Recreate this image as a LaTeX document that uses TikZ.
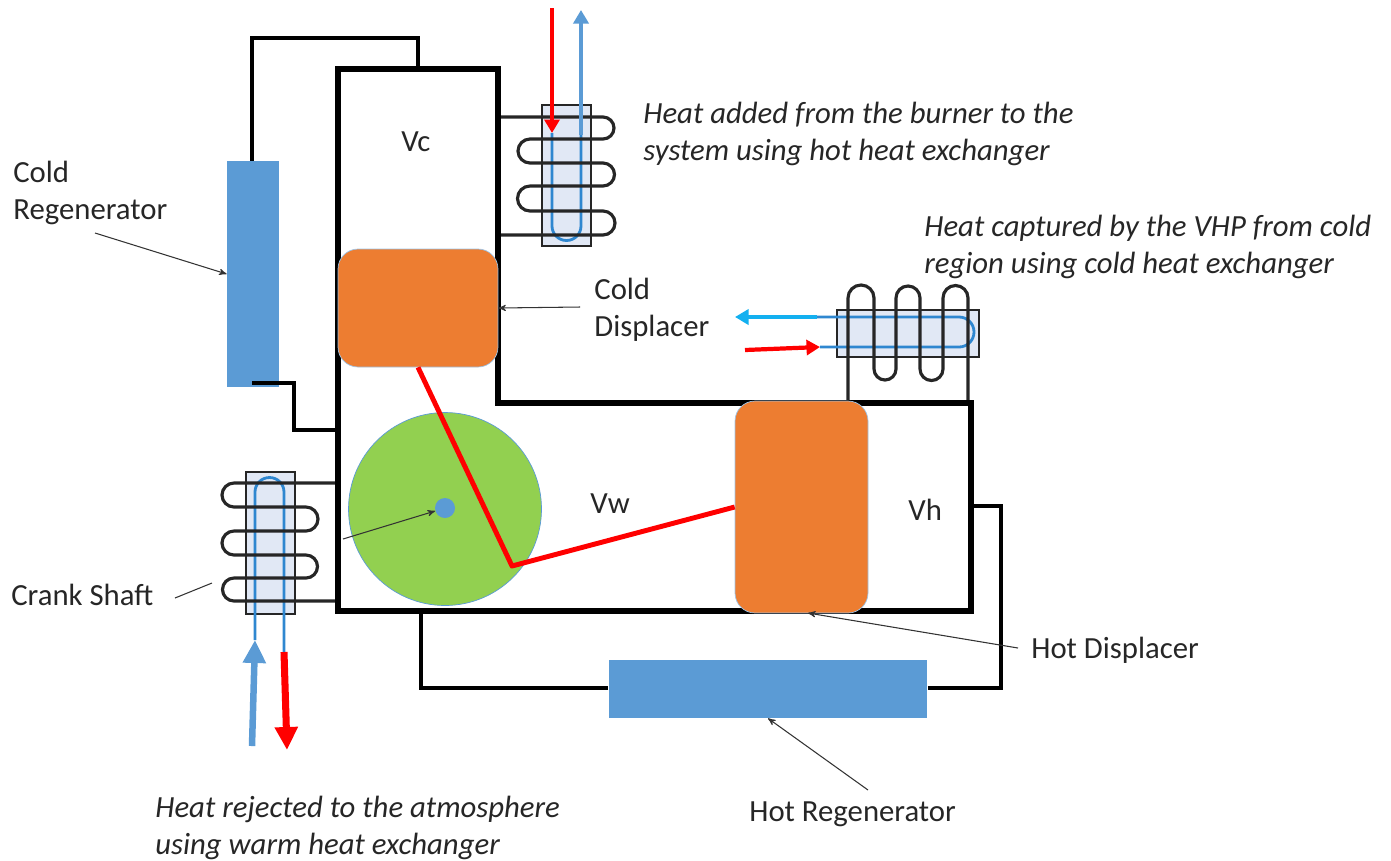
\documentclass[tikz,border=0pt]{standalone}
\usepackage{fontspec}
\setmainfont{Carlito}
\usetikzlibrary{
  positioning,
  arrows,
  arrows.meta
}
\definecolor{regenblue}{HTML}{5B9BD5}
\definecolor{dispo}{HTML}{ED7D31}
\definecolor{wheelgreen}{HTML}{92D050}
\definecolor{hxfill}{HTML}{E1E8F5}
\definecolor{tubeblue}{HTML}{2F87D0}
\definecolor{coolblue}{HTML}{13B0F0}
\tikzset{
  >=stealth',
  body/.style={line width=3.3pt, line join=miter},
  pipe/.style={line width=2.1pt},
  coil/.style={line width=1.8pt, draw=black!85},
  tube/.style={line width=1.6pt, draw=tubeblue},
  regen/.style={rectangle, fill=regenblue, inner sep=0pt},
  displacer/.style={rectangle, rounded corners=0.4cm, fill=dispo, draw=regenblue!60, line width=0.4pt, inner sep=0pt},
  hx/.style={rectangle, draw=black!85, line width=1.6pt, fill=hxfill, inner sep=0pt},
  rod/.style={line width=2.8pt, draw=red, line join=round},
  smalltip/.style={-{Triangle[width=0.3cm, length=0.27cm]}},
  bigtip/.style={-{Triangle[width=0.44cm, length=0.46cm]}},
  redflow/.style={smalltip, line width=2.8pt, draw=red},
  blueflow/.style={smalltip, line width=2.8pt, draw=regenblue},
  leader/.style={->, line width=0.6pt, draw=black!80},
  lbl/.style={inner sep=0pt, anchor=west, align=left, font=\fontsize{17.5}{20.9}\selectfont, text=black!85},
  note/.style={lbl, font=\fontsize{17.5}{20.9}\selectfont\itshape}
}

\begin{document}
\begin{tikzpicture}[x=0.02cm, y=-0.02cm]
    \useasboundingbox (0,0) rectangle (1391,860);

    % regenerators and pipes
    \node[regen, minimum width=1.04cm, minimum height=4.52cm] (coldreg) at (253,274) {};
    \node[regen, minimum width=6.38cm, minimum height=1.16cm] (hotreg) at (768,689) {};
    \coordinate (topleft) at (252,38);
    \coordinate (topright) at (418,38);
    \coordinate (topport) at (418,69);
    \coordinate (coldout) at (252,383);
    \coordinate (stepa) at (294,383);
    \coordinate (stepb) at (294,430);
    \coordinate (workport) at (338,430);
    \coordinate (bottomport) at (421,611);
    \coordinate (bottomleft) at (421,688);
    \coordinate (bottomright) at (1001,688);
    \coordinate (hotcorner) at (1001,506);
    \coordinate (hotport) at (971,506);
    \draw[pipe] (topport) -- (topright) -- (topleft) -- (coldreg.north -| topleft);
    \draw[pipe] (coldout) -- (stepa) -- (stepb) -- (workport);
    \draw[pipe] (bottomport) -- (bottomleft) -- (hotreg.west |- bottomleft);
    \draw[pipe] (hotreg.east |- bottomright) -- (bottomright) -- (hotcorner) -- (hotport);

    % hot heat exchanger
    \node[hx, minimum width=0.98cm, minimum height=2.82cm] (hxtop) at (566.5,175.5) {};
    \coordinate (hxtopin) at (552,133);
    \coordinate (hxtopout) at (581,135);
    \coordinate (hxtopredstart) at (552,8);
    \coordinate (hxtopbluetip) at (581,10);
    \draw[tube] (hxtopin) -- (552,226) arc[start angle=180, end angle=0, radius=14.5] -- (hxtopout);
    \draw[coil] (498,117) -- (603,117) arc[start angle=-90, end angle=90, radius=11]
      -- (530,139) arc[start angle=270, end angle=90, radius=12]
      -- (603,163) arc[start angle=-90, end angle=90, radius=11.5]
      -- (530,186) arc[start angle=270, end angle=90, radius=12.5]
      -- (603,211) arc[start angle=-90, end angle=90, radius=12]
      -- (498,235);
    \draw[redflow] (hxtopredstart) -- (hxtopin);
    \draw[blueflow] (hxtopout) -- (hxtopbluetip);

    % cold heat exchanger
    \node[hx, minimum width=2.84cm, minimum height=0.94cm] (hxright) at (908,333.5) {};
    \coordinate (hxrightout) at (817,317);
    \coordinate (hxrightin) at (820,347);
    \coordinate (hxrightcool) at (735,317);
    \coordinate (hxrightred) at (745,350);
    \draw[tube] (hxrightout) -- (959,317) arc[start angle=-90, end angle=90, radius=15] -- (hxrightin);
    \draw[coil] (848,403) -- (848,298) arc[start angle=180, end angle=360, radius=13]
      -- (874,369) arc[start angle=180, end angle=0, radius=11]
      -- (896,298) arc[start angle=180, end angle=360, radius=12]
      -- (920,369) arc[start angle=180, end angle=0, radius=11.5]
      -- (943,298) arc[start angle=180, end angle=360, radius=12.5]
      -- (968,403);
    \draw[smalltip, line width=2.4pt, draw=coolblue] (hxrightout) -- (hxrightcool);
    \draw[smalltip, line width=2.4pt, draw=red] (hxrightred) -- (hxrightin);

    % warm heat exchanger
    \node[hx, minimum width=0.98cm, minimum height=2.84cm] (hxleft) at (270.5,543) {};
    \coordinate (hxleftin) at (255,640);
    \coordinate (hxleftout) at (284,652);
    \coordinate (hxleftbluestart) at (252,746);
    \coordinate (hxleftredtip) at (287,750);
    \draw[tube] (hxleftin) -- (255,492) arc[start angle=180, end angle=360, radius=14.5] -- (hxleftout);
    \draw[coil] (338,483) -- (234,483) arc[start angle=270, end angle=90, radius=12]
      -- (306,507) arc[start angle=-90, end angle=90, radius=12]
      -- (234,531) arc[start angle=270, end angle=90, radius=12]
      -- (306,555) arc[start angle=-90, end angle=90, radius=11.5]
      -- (234,578) arc[start angle=270, end angle=90, radius=11.5]
      -- (338,601);
    \draw[bigtip, line width=3.7pt, draw=regenblue] (hxleftbluestart) -- (hxleftin);
    \draw[bigtip, line width=4pt, draw=red] (hxleftout) -- (hxleftredtip);

    % engine body
    \node[circle, fill=wheelgreen, draw=regenblue, line width=0.4pt, minimum size=3.86cm, inner sep=0pt] (wheel) at (445,509) {};
    \draw[body] (338,69) -- (498,69) -- (498,403) -- (971,403) -- (971,611) -- (338,611) -- cycle;
    \node[displacer, minimum width=3.2cm, minimum height=2.36cm] (colddisp) at (418,308) {};
    \node[displacer, minimum width=2.66cm, minimum height=4.24cm] (hotdisp) at (801.5,507) {};
    \coordinate (crankpin) at (512,566);
    \draw[rod] (colddisp.south -| 418,0) -- (crankpin) -- (hotdisp.west);
    \node[regen, circle, minimum size=0.4cm] (hub) at (445,508) {};

    % labels
    \node[lbl] at (401,142) (vc) {Vc};
    \node[lbl] at (590,504) (vw) {Vw};
    \node[lbl] at (908,510) (vh) {Vh};
    \node[lbl] at (13,193) (lblcoldreg) {Cold\\Regenerator};
    \node[lbl] at (594,310) (lblcolddisp) {Cold\\Displacer};
    \node[lbl] at (11,595) (lblcrank) {Crank Shaft};
    \node[lbl] at (1031,650) (lblhotdisp) {Hot Displacer};
    \node[lbl] at (749,814) (lblhotreg) {Hot Regenerator};
    \node[note] at (643,134) (noteburner) {Heat added from the burner to the\\system using hot heat exchanger};
    \node[note] at (924,247) (notevhp) {Heat captured by the VHP from cold\\region using cold heat exchanger};
    \node[note] at (155,828) (noteatm) {Heat rejected to the atmosphere\\using warm heat exchanger};

    % leader lines
    \coordinate (crankstart) at (175,598);
    \coordinate (crankbreaka) at (212,583);
    \coordinate (crankbreakb) at (343,539);
    \coordinate (hotdispstart) at (1018,648);
    \coordinate (hotdisptip) at (808,613);
    \coordinate (coldregstart) at (95,233);
    \coordinate (colddispstart) at (580,307);
    \coordinate (hotregstart) at (868,790);
    \draw[leader] (coldregstart) -- (coldreg.west);
    \draw[leader] (colddispstart) -- (colddisp.east);
    \draw[leader, -] (crankstart) -- (crankbreaka);
    \draw[leader] (crankbreakb) -- (hub);
    \draw[leader] (hotdispstart) -- (hotdisptip);
    \draw[leader] (hotregstart) -- (hotreg.south);
  \end{tikzpicture}
\end{document}
